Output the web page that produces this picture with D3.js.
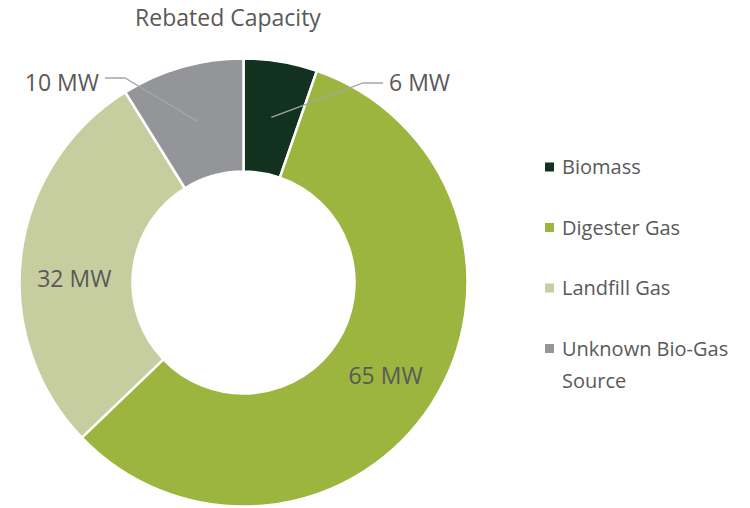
<!DOCTYPE html>
<html>
<head>
<meta charset="utf-8">
<script src="https://cdn.jsdelivr.net/npm/d3@7"></script>
<style>
  body { margin: 0; background: #fff; }
  text { font-family: "Open Sans", sans-serif; fill: #595959; }
</style>
</head>
<body>
<div class="canvas"></div>
<script>
const categories = ["Biomass", "Digester Gas", "Landfill Gas", "Unknown Bio-Gas Source"];
const values = [6, 65, 32, 10];
const valueLabels = ["6 MW", "65 MW", "32 MW", "10 MW"];
const colours = ["#12321f", "#9bb53e", "#c6cd9f", "#939598"];

const dims = { width: 750, height: 508, radius: 224, inner: 111 };
const cent = { x: 243.5, y: 282.5 };

const svg = d3.select(".canvas").append("svg")
  .attr("width", dims.width)
  .attr("height", dims.height);

// title
svg.append("text")
  .attr("x", 228)
  .attr("y", 26)
  .attr("text-anchor", "middle")
  .style("font-size", "23px")
  .text("Rebated Capacity");

const graph = svg.append("g")
  .attr("transform", `translate(${cent.x}, ${cent.y})`);

const data = categories.map((c, i) => ({ name: c, value: values[i], label: valueLabels[i] }));

const colour = d3.scaleOrdinal().domain(categories).range(colours);

const pie = d3.pie().sort(null).value(d => d.value);
const arcPath = d3.arc().outerRadius(dims.radius).innerRadius(dims.inner);
const midR = (dims.radius + dims.inner) / 2;
const midArc = d3.arc().outerRadius(midR).innerRadius(midR);

const arcs = pie(data);

graph.selectAll("path")
  .data(arcs)
  .enter()
  .append("path")
  .attr("d", arcPath)
  .attr("fill", d => colour(d.data.name))
  .attr("stroke", "#fff")
  .attr("stroke-width", 2.5);

// small slices get a leader line out to the top, the others sit inside
const outside = {
  "Biomass": { x: 119.5, y: -199.5, dir: 1, ty: -199.5 },
  "Unknown Bio-Gas Source": { x: -118.5, y: -204.5, dir: -1, ty: -199.5 }
};
const nudge = { "Digester Gas": [1, 3], "Landfill Gas": [-3, 17] };

arcs.forEach(d => {
  const [cx, cy] = midArc.centroid(d);
  const o = outside[d.data.name];
  if (o) {
    graph.append("polyline")
      .attr("points", [[cx, cy], [o.x, o.y], [o.x + o.dir * 20, o.y]].map(p => p.join(",")).join(" "))
      .attr("fill", "none")
      .attr("stroke", "#a6a6a6")
      .attr("stroke-width", 1.3);
    graph.append("text")
      .attr("x", o.x + o.dir * 26)
      .attr("y", o.ty)
      .attr("dy", "0.35em")
      .attr("text-anchor", o.dir > 0 ? "start" : "end")
      .style("font-size", "23px")
      .text(d.data.label);
  } else {
    const n = nudge[d.data.name] || [0, 0];
    graph.append("text")
      .attr("x", cx + n[0])
      .attr("y", cy + n[1])
      .attr("dy", "0.35em")
      .attr("text-anchor", "middle")
      .style("font-size", "23px")
      .text(d.data.label);
  }
});

// legend
const legend = svg.append("g").attr("transform", "translate(545, 167)");
const rows = legend.selectAll("g")
  .data(categories)
  .enter()
  .append("g")
  .attr("transform", (d, i) => `translate(0, ${i * 60.5})`);

rows.append("rect")
  .attr("x", 0).attr("y", -4.5)
  .attr("width", 9).attr("height", 9)
  .attr("fill", d => colour(d));

rows.append("text")
  .attr("y", 0)
  .style("font-size", "20px")
  .each(function (d) {
    const words = d === "Unknown Bio-Gas Source" ? ["Unknown Bio-Gas", "Source"] : [d];
    d3.select(this).selectAll("tspan")
      .data(words)
      .enter()
      .append("tspan")
      .attr("x", 17)
      .attr("dy", (w, j) => j === 0 ? "0.35em" : "32px")
      .text(w => w);
  });
</script>
</body>
</html>
